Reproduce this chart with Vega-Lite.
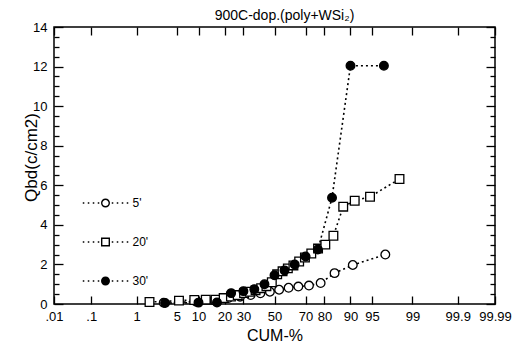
{
  "$schema": "https://vega.github.io/schema/vega-lite/v6.json",
  "width": 441,
  "height": 277,
  "autosize": {"type": "none"},
  "padding": {"left": 54, "top": 27, "right": 21, "bottom": 50},
  "background": "white",
  "title": {"text": "900C-dop.(poly+WSi₂)", "fontSize": 14, "fontWeight": "normal", "color": "black", "offset": -16, "dx": 10, "anchor": "middle", "baseline": "bottom"},
  "config": {
    "font": "Liberation Sans",
    "view": {"stroke": "black", "strokeWidth": 1.5},
    "axis": {"domain": false, "grid": false, "tickColor": "black", "tickWidth": 1.3, "labelColor": "black", "titleColor": "black", "titleFontWeight": "normal", "labelFontSize": 13, "labelFlush": false, "labelOverlap": false}
  },
  "data": {"values": [
    {"series": "5'", "cum": 3.1, "qbd": 0.06},
    {"series": "5'", "cum": 9.4, "qbd": 0.12},
    {"series": "5'", "cum": 15.6, "qbd": 0.2},
    {"series": "5'", "cum": 21.9, "qbd": 0.3},
    {"series": "5'", "cum": 28.1, "qbd": 0.37},
    {"series": "5'", "cum": 34.4, "qbd": 0.45},
    {"series": "5'", "cum": 40.6, "qbd": 0.54},
    {"series": "5'", "cum": 46.9, "qbd": 0.62},
    {"series": "5'", "cum": 53.1, "qbd": 0.72},
    {"series": "5'", "cum": 59.4, "qbd": 0.82},
    {"series": "5'", "cum": 65.6, "qbd": 0.88},
    {"series": "5'", "cum": 71.9, "qbd": 0.93},
    {"series": "5'", "cum": 78.1, "qbd": 1.06},
    {"series": "5'", "cum": 84.4, "qbd": 1.56},
    {"series": "5'", "cum": 90.6, "qbd": 1.97},
    {"series": "5'", "cum": 96.9, "qbd": 2.5},
    {"series": "20'", "cum": 1.8, "qbd": 0.1},
    {"series": "20'", "cum": 5.4, "qbd": 0.17},
    {"series": "20'", "cum": 8.9, "qbd": 0.2},
    {"series": "20'", "cum": 12.5, "qbd": 0.22},
    {"series": "20'", "cum": 16.1, "qbd": 0.22},
    {"series": "20'", "cum": 19.6, "qbd": 0.3},
    {"series": "20'", "cum": 23.2, "qbd": 0.38},
    {"series": "20'", "cum": 26.8, "qbd": 0.45},
    {"series": "20'", "cum": 30.4, "qbd": 0.55},
    {"series": "20'", "cum": 33.9, "qbd": 0.62},
    {"series": "20'", "cum": 37.5, "qbd": 0.7},
    {"series": "20'", "cum": 41.1, "qbd": 0.8},
    {"series": "20'", "cum": 44.6, "qbd": 0.9},
    {"series": "20'", "cum": 48.2, "qbd": 1.1},
    {"series": "20'", "cum": 51.8, "qbd": 1.5},
    {"series": "20'", "cum": 55.4, "qbd": 1.65},
    {"series": "20'", "cum": 58.9, "qbd": 1.8},
    {"series": "20'", "cum": 62.5, "qbd": 1.95},
    {"series": "20'", "cum": 66.1, "qbd": 2.15},
    {"series": "20'", "cum": 69.6, "qbd": 2.35},
    {"series": "20'", "cum": 73.2, "qbd": 2.55},
    {"series": "20'", "cum": 76.8, "qbd": 2.8},
    {"series": "20'", "cum": 80.4, "qbd": 3.0},
    {"series": "20'", "cum": 83.9, "qbd": 3.45},
    {"series": "20'", "cum": 87.5, "qbd": 4.92},
    {"series": "20'", "cum": 91.1, "qbd": 5.22},
    {"series": "20'", "cum": 94.6, "qbd": 5.42},
    {"series": "20'", "cum": 98.2, "qbd": 6.32},
    {"series": "30'", "cum": 3.3, "qbd": 0.05},
    {"series": "30'", "cum": 10.0, "qbd": 0.07},
    {"series": "30'", "cum": 16.7, "qbd": 0.08},
    {"series": "30'", "cum": 23.3, "qbd": 0.55},
    {"series": "30'", "cum": 30.0, "qbd": 0.65},
    {"series": "30'", "cum": 36.7, "qbd": 0.75},
    {"series": "30'", "cum": 43.3, "qbd": 1.0},
    {"series": "30'", "cum": 50.0, "qbd": 1.45},
    {"series": "30'", "cum": 56.7, "qbd": 1.7},
    {"series": "30'", "cum": 63.3, "qbd": 2.0},
    {"series": "30'", "cum": 70.0, "qbd": 2.4},
    {"series": "30'", "cum": 76.7, "qbd": 2.75},
    {"series": "30'", "cum": 83.3, "qbd": 5.37},
    {"series": "30'", "cum": 90.0, "qbd": 12.04},
    {"series": "30'", "cum": 96.7, "qbd": 12.04}
  ]},
  "layer": [
    {
      "mark": {"type": "line", "strokeDash": [2, 3], "strokeWidth": 1.6, "color": "black"},
      "encoding": {
        "x": {
          "field": "cum", "type": "quantitative",
          "scale": {
            "domain": [0.01, 0.02, 0.05, 0.1, 0.2, 0.5, 1, 2, 3, 5, 7, 10, 15, 20, 25, 30, 35, 40, 45, 50, 55, 60, 65, 70, 75, 80, 85, 90, 93, 95, 97, 98, 99, 99.5, 99.8, 99.9, 99.95, 99.98, 99.99],
            "range": [0, 10.61, 25.41, 37.28, 49.85, 67.78, 82.57, 98.74, 108.99, 122.97, 133.0, 144.51, 159.05, 170.6, 180.51, 189.41, 197.66, 205.48, 213.05, 220.5, 227.95, 235.52, 243.34, 251.59, 260.49, 270.4, 281.95, 296.49, 308.0, 318.03, 332.01, 342.26, 358.43, 373.22, 391.15, 403.72, 415.59, 430.39, 441],
            "nice": false, "zero": false
          },
          "axis": {
            "orient": "bottom",
            "values": [0.01, 0.1, 1, 5, 10, 20, 30, 50, 70, 80, 90, 95, 99, 99.9, 99.99],
            "labelExpr": "datum.value < 1 ? substring(toString(datum.value), 1) : toString(datum.value)",
            "tickSize": -8, "labelPadding": 14,
            "title": "CUM-%", "titleFontSize": 16, "titleY": 31, "titleBaseline": "middle"
          }
        },
        "y": {
          "field": "qbd", "type": "quantitative",
          "scale": {"domain": [0, 14], "nice": false},
          "axis": {
            "orient": "left",
            "values": [0, 2, 4, 6, 8, 10, 12, 14],
            "tickSize": -9, "labelPadding": 16,
            "title": "Qbd(c/cm2)", "titleFontSize": 17, "titleX": -23, "titleY": 130, "titleAngle": -90, "titleBaseline": "middle", "titleAlign": "center"
          }
        },
        "detail": {"field": "series"}
      }
    },
    {
      "mark": {"type": "point", "filled": true, "stroke": "black", "strokeWidth": 1.3, "size": 75, "opacity": 1},
      "encoding": {
        "x": {"field": "cum", "type": "quantitative", "axis": {"orient": "top", "values": [0.01, 0.1, 1, 5, 10, 20, 30, 50, 70, 80, 90, 95, 99, 99.9, 99.99], "tickSize": -8, "labels": false, "title": null}},
        "y": {"field": "qbd", "type": "quantitative", "axis": {"orient": "right", "values": [0, 2, 4, 6, 8, 10, 12, 14], "tickSize": -9, "labels": false, "title": null}},
        "shape": {
          "field": "series",
          "scale": {"domain": ["5'", "20'", "30'"], "range": ["circle", "square", "circle"]},
          "legend": null
        },
        "fill": {
          "field": "series",
          "scale": {"domain": ["5'", "20'", "30'"], "range": ["white", "white", "black"]},
          "legend": null
        }
      }
    },
    {
      "transform": [{"filter": "false"}],
      "mark": {"type": "point", "filled": true, "color": "black", "size": 81},
      "encoding": {
        "x": {"field": "cum", "type": "quantitative", "axis": null},
        "y": {"field": "qbd", "type": "quantitative", "axis": {"orient": "left", "values": [0.5, 1, 1.5, 2.5, 3, 3.5, 4.5, 5, 5.5, 6.5, 7, 7.5, 8.5, 9, 9.5, 10.5, 11, 11.5, 12.5, 13, 13.5], "tickSize": -5, "labels": false, "title": null}},
        "shape": {
          "field": "series",
          "scale": {"domain": ["5'", "20'", "30'"], "range": [
            "M-5.05,-0.17h0.34v0.34h-0.34ZM-3.94,-0.17h0.34v0.34h-0.34ZM-2.83,-0.17h0.34v0.34h-0.34ZM-1.72,-0.17h0.34v0.34h-0.34ZM1.39,-0.17h0.34v0.34h-0.34ZM2.5,-0.17h0.34v0.34h-0.34ZM3.61,-0.17h0.34v0.34h-0.34ZM4.72,-0.17h0.34v0.34h-0.34ZM1,0A1,1,0,1,1,-1,0A1,1,0,1,1,1,0ZM0.69,0A0.69,0.69,0,1,0,-0.69,0A0.69,0.69,0,1,0,0.69,0Z",
            "M-5.05,-0.17h0.34v0.34h-0.34ZM-3.94,-0.17h0.34v0.34h-0.34ZM-2.83,-0.17h0.34v0.34h-0.34ZM-1.72,-0.17h0.34v0.34h-0.34ZM1.39,-0.17h0.34v0.34h-0.34ZM2.5,-0.17h0.34v0.34h-0.34ZM3.61,-0.17h0.34v0.34h-0.34ZM4.72,-0.17h0.34v0.34h-0.34ZM-1,-1H1V1H-1ZM-0.69,-0.69V0.69H0.69V-0.69Z",
            "M-5.05,-0.17h0.34v0.34h-0.34ZM-3.94,-0.17h0.34v0.34h-0.34ZM-2.83,-0.17h0.34v0.34h-0.34ZM-1.72,-0.17h0.34v0.34h-0.34ZM1.39,-0.17h0.34v0.34h-0.34ZM2.5,-0.17h0.34v0.34h-0.34ZM3.61,-0.17h0.34v0.34h-0.34ZM4.72,-0.17h0.34v0.34h-0.34ZM1,0A1,1,0,1,1,-1,0A1,1,0,1,1,1,0Z"
          ]},
          "legend": {
            "orient": "none", "legendX": 45.5, "legendY": 170, "title": null, "padding": 0,
            "symbolSize": 81, "symbolOpacity": 1, "symbolFillColor": "black", "symbolStrokeWidth": 0,
            "labelOffset": 21, "rowPadding": 27, "labelFontSize": 12, "labelColor": "black"
          }
        }
      }
    },
    {
      "mark": {"type": "point", "opacity": 0},
      "encoding": {
        "x": {"field": "cum", "type": "quantitative", "axis": null},
        "y": {"field": "qbd", "type": "quantitative", "axis": {"orient": "right", "values": [0.5, 1, 1.5, 2.5, 3, 3.5, 4.5, 5, 5.5, 6.5, 7, 7.5, 8.5, 9, 9.5, 10.5, 11, 11.5, 12.5, 13, 13.5], "tickSize": -5, "labels": false, "title": null}}
      }
    }
  ],
  "resolve": {
    "axis": {"x": "independent", "y": "independent"},
    "scale": {"shape": "independent"},
    "legend": {"shape": "independent"}
  }
}
